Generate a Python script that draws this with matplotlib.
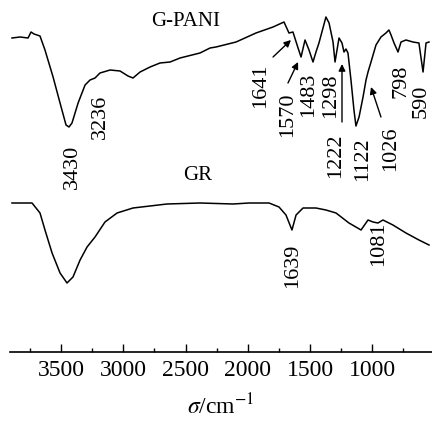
"""
G-PANI / GR 红外光谱图
"""

import matplotlib
matplotlib.use('Agg')
import matplotlib.pyplot as plt
from matplotlib.ticker import MultipleLocator

plt.rcParams['font.family'] = ['Liberation Serif', 'DejaVu Serif']
plt.rcParams['mathtext.fontset'] = 'stix'

# G-PANI 光谱 (波数 cm-1, 相对透过率)
gpani_wn = [3894, 3829, 3765, 3741, 3717, 3669, 3629, 3564, 3508, 3460, 3436, 3412,
            3363, 3307, 3267, 3227, 3187, 3106, 3026, 2962, 2922, 2865, 2785, 2705,
            2624, 2544, 2384, 2303, 2255, 2094, 1934, 1797, 1709, 1669, 1637, 1596,
            1572, 1540, 1508, 1476, 1452, 1428, 1372, 1347, 1315, 1299, 1267, 1243,
            1227, 1211, 1195, 1171, 1147, 1131, 1106, 1074, 1050, 1034, 1010, 970,
            930, 890, 866, 849, 825, 793, 769, 729, 673, 625, 592, 568, 544]
gpani_t = [314, 315, 314, 320, 318, 316, 302, 275, 249, 227, 225, 229,
           249, 267, 272, 274, 279, 282, 281, 276, 274, 280, 285, 289,
           290, 294, 299, 304, 305, 310, 319, 325, 330, 319, 320, 304,
           295, 312, 302, 290, 300, 309, 335, 329, 310, 290, 314, 309,
           300, 303, 299, 272, 242, 226, 235, 255, 272, 280, 290, 307,
           315, 319, 322, 317, 309, 300, 310, 312, 310, 309, 280, 309, 310]

# GR 光谱
gr_wn = [3894, 3733, 3669, 3629, 3572, 3508, 3452, 3404, 3347, 3291, 3227, 3147,
         3050, 2922, 2649, 2384, 2118, 1990, 1829, 1749, 1693, 1661, 1645, 1612,
         1556, 1452, 1372, 1291, 1187, 1090, 1034, 994, 954, 914, 834, 729, 625, 544]
gr_t = [149, 149, 139, 122, 99, 79, 69, 75, 92, 105, 115, 130,
        139, 144, 148, 149, 148, 149, 149, 145, 137, 127, 122, 137,
        144, 144, 142, 139, 129, 122, 132, 130, 129, 132, 127, 119, 112, 107]

# 峰标注: (文字, 波数位置, 纵坐标)
peak_labels = [('3430', 3412, 185), ('3236', 3187, 235), ('1641', 1894, 266),
               ('1570', 1677, 237), ('1483', 1508, 257), ('1298', 1331, 256),
               ('1222', 1291, 196), ('1122', 1074, 193), ('1026', 849, 203),
               ('798', 769, 271), ('590', 608, 251),
               ('1639', 1637, 86), ('1081', 946, 108)]

# 箭头: (起点波数, 起点y, 终点波数, 终点y)
arrows = [(1797, 295, 1653, 312), (1677, 269, 1596, 290),
          (1243, 230, 1243, 288), (930, 235, 1010, 265)]

fig = plt.figure(figsize=(4.32, 4.22), dpi=100)
ax = fig.add_axes([10 / 432, 70 / 422, 422 / 432, 352 / 422])

ax.plot(gpani_wn, gpani_t, color='black', lw=1.1)
ax.plot(gr_wn, gr_t, color='black', lw=1.1)

ax.text(2496, 330, 'G-PANI', fontsize=15, ha='center', va='center')
ax.text(2400, 176, 'GR', fontsize=15, ha='center', va='center')

for txt, x, y in peak_labels:
    ax.text(x, y, txt, fontsize=16, rotation=90, ha='center', va='center')

for x0, y0, x1, y1 in arrows:
    ax.annotate('', xy=(x1, y1), xytext=(x0, y0),
                arrowprops=dict(arrowstyle='-|>', color='black', lw=1.0,
                                mutation_scale=10, shrinkA=0, shrinkB=0))

ax.set_xlim(3910, 520)
ax.set_ylim(0, 352)
ax.xaxis.set_major_locator(MultipleLocator(500))
ax.xaxis.set_minor_locator(MultipleLocator(250))
ax.tick_params(axis='x', which='major', direction='in', length=6, width=1,
               labelsize=17, pad=6)
ax.tick_params(axis='x', which='minor', direction='in', length=3, width=1)
ax.set_yticks([])
for side in ['top', 'left', 'right']:
    ax.spines[side].set_visible(False)
ax.spines['bottom'].set_linewidth(1.2)
ax.patch.set_alpha(0)

ax.set_xlabel(r'$\sigma$/cm$^{-1}$', fontsize=17, labelpad=9)

fig.savefig('out.png', dpi=100)
